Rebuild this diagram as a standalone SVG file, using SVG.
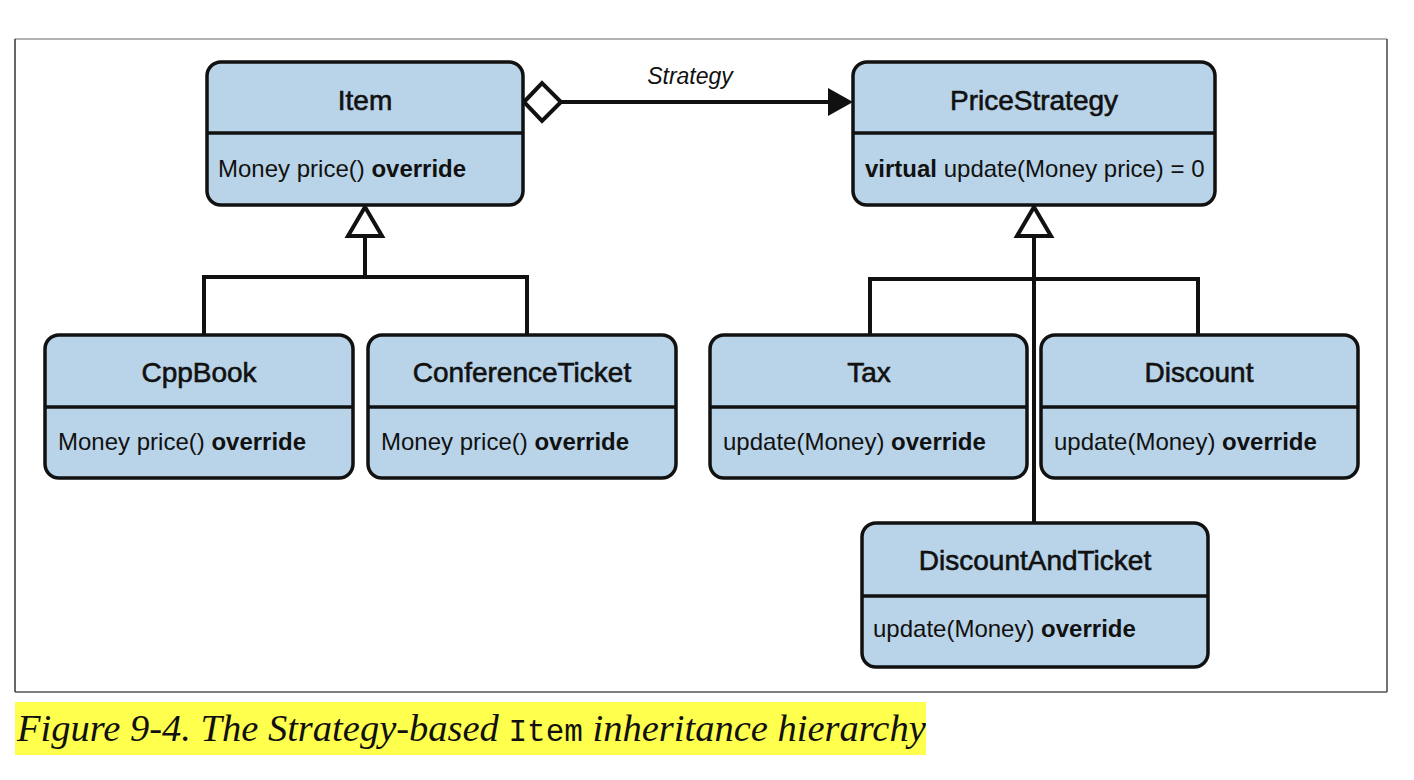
<svg xmlns="http://www.w3.org/2000/svg" width="1414" height="780" viewBox="0 0 1414 780">
<style>
.box{fill:#b9d4e8;stroke:#111;stroke-width:3.5}
.div{stroke:#111;stroke-width:3.5}
.title{font-family:"Liberation Sans",Arial,sans-serif;font-size:28px;fill:#111;stroke:#111;stroke-width:0.6;text-anchor:middle}
.body{font-family:"Liberation Sans",Arial,sans-serif;font-size:24px;fill:#111}
.b{font-weight:bold}
.conn{fill:none;stroke:#111;stroke-width:4}
</style>
<rect x="0" y="0" width="1414" height="780" fill="#fff"/>
<g id="frame">
<line x1="15" y1="39" x2="1387" y2="39" stroke="#999" stroke-width="1.5"/>
<line x1="1387" y1="39" x2="1387" y2="692" stroke="#444" stroke-width="1.5"/>
<line x1="15" y1="692" x2="1387" y2="692" stroke="#555" stroke-width="1.5"/>
<line x1="15" y1="39" x2="15" y2="692" stroke="#333" stroke-width="1.5"/>
</g>
<g id="connectors">
<line class="conn" x1="561" y1="102" x2="830" y2="102"/>
<path d="M828,88 L853,102 L828,116 Z" fill="#111"/>
<path d="M524,102 L542,83 L561,102 L542,121 Z" fill="#fff" stroke="#111" stroke-width="4"/>
<text x="690" y="84" font-family="'Liberation Sans',Arial,sans-serif" font-style="italic" font-size="23" fill="#111" text-anchor="middle">Strategy</text>
<path class="conn" d="M204,335 V277 H527 V335 M365,277 V237"/>
<path d="M365,207 L382,236 L348,236 Z" fill="#fff" stroke="#111" stroke-width="4"/>
<path class="conn" d="M870,335 V279 H1198 V335 M1034,237 V523"/>
<path d="M1034,207 L1051,236 L1017,236 Z" fill="#fff" stroke="#111" stroke-width="4"/>
</g>
<g id="Item">
<rect class="box" x="207" y="62" width="316" height="143" rx="14"/>
<line class="div" x1="207" y1="133" x2="523" y2="133"/>
<text class="title" x="365" y="110">Item</text>
<text class="body" x="218" y="177">Money price() <tspan class="b">override</tspan></text>
</g>
<g id="PriceStrategy">
<rect class="box" x="853" y="62" width="362" height="143" rx="14"/>
<line class="div" x1="853" y1="133" x2="1215" y2="133"/>
<text class="title" x="1034" y="110">PriceStrategy</text>
<text class="body" x="865" y="177"><tspan class="b">virtual</tspan> update(Money price) = 0</text>
</g>
<g id="CppBook">
<rect class="box" x="45" y="335" width="308" height="143" rx="14"/>
<line class="div" x1="45" y1="407" x2="353" y2="407"/>
<text class="title" x="199" y="382">CppBook</text>
<text class="body" x="58" y="450">Money price() <tspan class="b">override</tspan></text>
</g>
<g id="ConferenceTicket">
<rect class="box" x="368" y="335" width="308" height="143" rx="14"/>
<line class="div" x1="368" y1="407" x2="676" y2="407"/>
<text class="title" x="522" y="382">ConferenceTicket</text>
<text class="body" x="381" y="450">Money price() <tspan class="b">override</tspan></text>
</g>
<g id="Tax">
<rect class="box" x="710" y="335" width="317" height="143" rx="14"/>
<line class="div" x1="710" y1="407" x2="1027" y2="407"/>
<text class="title" x="869" y="382">Tax</text>
<text class="body" x="723" y="450">update(Money) <tspan class="b">override</tspan></text>
</g>
<g id="Discount">
<rect class="box" x="1041" y="335" width="317" height="143" rx="14"/>
<line class="div" x1="1041" y1="407" x2="1358" y2="407"/>
<text class="title" x="1199" y="382">Discount</text>
<text class="body" x="1054" y="450">update(Money) <tspan class="b">override</tspan></text>
</g>
<g id="DiscountAndTicket">
<rect class="box" x="862" y="523" width="346" height="144" rx="14"/>
<line class="div" x1="862" y1="596" x2="1208" y2="596"/>
<text class="title" x="1035" y="570">DiscountAndTicket</text>
<text class="body" x="873" y="637">update(Money) <tspan class="b">override</tspan></text>
</g>
<g id="caption">
<rect x="15" y="702" width="911" height="53" fill="#ffff4d"/>
<text x="17" y="741" font-family="'Liberation Serif','Times New Roman',serif" font-style="italic" font-size="38.5" fill="#111">Figure 9-4. The Strategy-based <tspan font-family="'Liberation Mono','Courier New',monospace" font-style="normal" font-size="31">Item</tspan> inheritance hierarchy</text>
</g>
</svg>
